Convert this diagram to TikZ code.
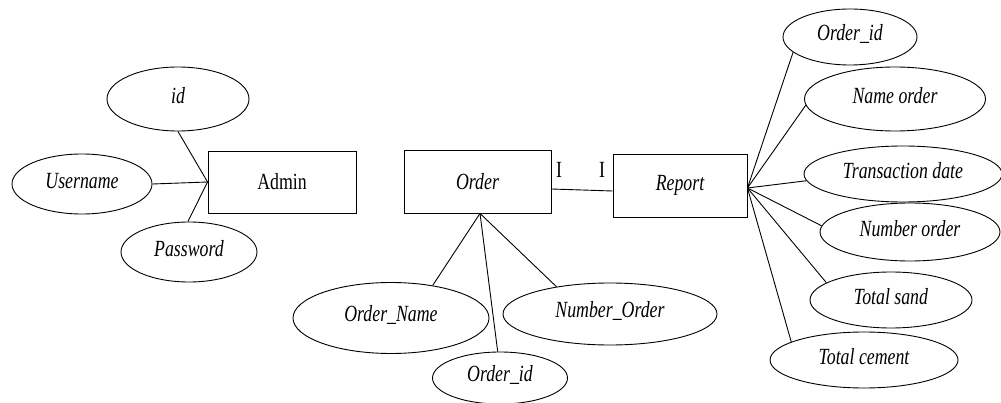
\documentclass[tikz,border=0pt]{standalone}
\usepackage{fontspec}
\setmainfont{Liberation Serif}
\usetikzlibrary{shapes.geometric,calc}
\newcommand{\stt}[1]{\scalebox{1}[1.3]{#1}}
\newcommand{\sta}[1]{\raisebox{3pt}[\height][\depth]{\scalebox{1}[1.3]{\itshape #1}}}
\tikzset{
  ent/.style={draw, line width=0.9pt, rectangle, inner sep=0pt},
  attr/.style={draw, line width=0.9pt, ellipse, inner sep=0pt},
  lnk/.style={line width=0.9pt},
  every node/.style={font=\fontsize{17.8}{20}\selectfont}
}
\begin{document}
\begin{tikzpicture}[x=1pt,y=-1pt]
\useasboundingbox (0,0) rectangle (1001,403);
% entities
\node[ent, minimum width=148pt, minimum height=62pt] (admin) at (282,182) {\stt{Admin}};
\node[ent, minimum width=147pt, minimum height=63pt] (order) at (477.5,181.5) {\stt{\itshape Order}};
\node[ent, minimum width=134pt, minimum height=63pt] (report) at (680,185.5) {\stt{\itshape Report}};
% admin attributes
\node[attr, minimum width=142pt, minimum height=64pt] (aid) at (178,99) {\sta{id}};
\node[attr, minimum width=140pt, minimum height=60pt] (user) at (82,184) {\sta{Username}};
\node[attr, minimum width=136pt, minimum height=60pt] (pw) at (189,252) {\sta{Password}};
% order attributes
\node[attr, minimum width=196pt, minimum height=71pt] (oname) at (391,318) {\sta{Order\_Name}};
\node[attr, minimum width=135pt, minimum height=52pt] (oid) at (500,378) {\sta{Order\_id}};
\node[attr, minimum width=214pt, minimum height=62pt] (onum) at (610,314) {\sta{Number\_Order}};
% report attributes
\node[attr, minimum width=134pt, minimum height=56pt] (rid) at (850,37) {\sta{Order\_id}};
\node[attr, minimum width=181pt, minimum height=64pt] (rname) at (895,99) {\sta{Name order}};
\node[attr, minimum width=198pt, minimum height=56pt] (rdate) at (903,174) {\sta{Transaction date}};
\node[attr, minimum width=180pt, minimum height=58pt] (rnum) at (910,232) {\sta{Number order}};
\node[attr, minimum width=162pt, minimum height=56pt] (rsand) at (891,300) {\sta{Total sand}};
\node[attr, minimum width=188pt, minimum height=56pt] (rcem) at (864,360) {\sta{Total cement}};
% cardinality labels
\node (c1) at (559,170) {\stt{I}};
\node (c2) at (602,170) {\stt{I}};
% hubs
\coordinate (ah) at (admin.west);
\coordinate (oh) at ($(order.south)+(2.5,0)$);
\coordinate (rh) at ($(report.east)+(0,2.5)$);
% connectors
\draw[lnk] (aid.270) -- (ah);
\draw[lnk] (user.east) -- (ah);
\draw[lnk] (pw.92) -- (ah);
\draw[lnk] (oname.38) -- (oh);
\draw[lnk] (oid.95) -- (oh);
\draw[lnk] (onum.153) -- (oh);
\draw[lnk] ($(order.east)+(0,7.5)$) -- ($(report.west)+(0,5.5)$);
\draw[lnk] (rid.195) -- (rh);
\draw[lnk] (rname.184) -- (rh);
\draw[lnk] (rdate.184) -- (rh);
\draw[lnk] (rnum.176) -- (rh);
\draw[lnk] (rsand.165) -- (rh);
\draw[lnk] (rcem.166) -- (rh);
\end{tikzpicture}
\end{document}
